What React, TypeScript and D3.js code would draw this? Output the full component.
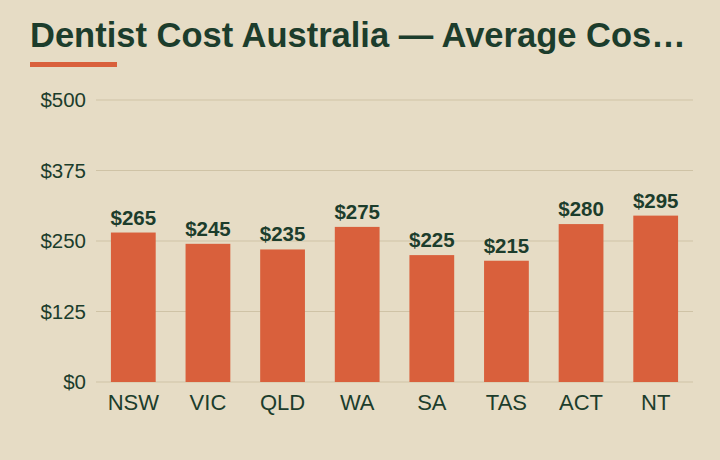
import React from "react";
import * as d3 from "d3";

const regions = ["NSW", "VIC", "QLD", "WA", "SA", "TAS", "ACT", "NT"];
const avgCost = [265, 245, 235, 275, 225, 215, 280, 295];
const yTicks = [0, 125, 250, 375, 500];

const W = 720;
const H = 460;
const ink = "#1c3d2c";
const bg = "#e6dcc5";
const barColor = "#d9603c";

export default function App() {
  const x = d3
    .scaleBand<string>()
    .domain(regions)
    .range([96, 693])
    .paddingInner(0.4)
    .paddingOuter(0.2);
  const y = d3.scaleLinear().domain([0, 500]).range([382, 100]);
  const fmt = (v: number) => "$" + d3.format(",")(v);

  return (
    <svg
      width={W}
      height={H}
      style={{ position: "absolute", left: 0, top: 0, background: bg }}
      fontFamily="'Liberation Sans', Arial, sans-serif"
    >
      <rect width={W} height={H} fill={bg} />
      <text x={30} y={47} fontSize={34.5} fontWeight="bold" fill={ink}>
        Dentist Cost Australia — Average Cos…
      </text>
      <rect x={30} y={62} width={87} height={5} fill={barColor} />

      {yTicks.map((t) => (
        <g key={t}>
          <line
            x1={96}
            x2={693}
            y1={y(t)}
            y2={y(t)}
            stroke="#cfc3a6"
            strokeWidth={1}
          />
          <text
            x={86}
            y={y(t)}
            dy="0.35em"
            textAnchor="end"
            fontSize={20.5}
            fill={ink}
          >
            {fmt(t)}
          </text>
        </g>
      ))}

      {regions.map((r, i) => (
        <g key={r}>
          <rect
            x={x(r)}
            y={y(avgCost[i])}
            width={x.bandwidth()}
            height={y(0) - y(avgCost[i])}
            fill={barColor}
          />
          <text
            x={(x(r) ?? 0) + x.bandwidth() / 2}
            y={y(avgCost[i]) - 8}
            textAnchor="middle"
            fontSize={20.5}
            fontWeight="bold"
            fill={ink}
          >
            {fmt(avgCost[i])}
          </text>
          <text
            x={(x(r) ?? 0) + x.bandwidth() / 2}
            y={410}
            textAnchor="middle"
            fontSize={22}
            fill={ink}
          >
            {r}
          </text>
        </g>
      ))}
    </svg>
  );
}
